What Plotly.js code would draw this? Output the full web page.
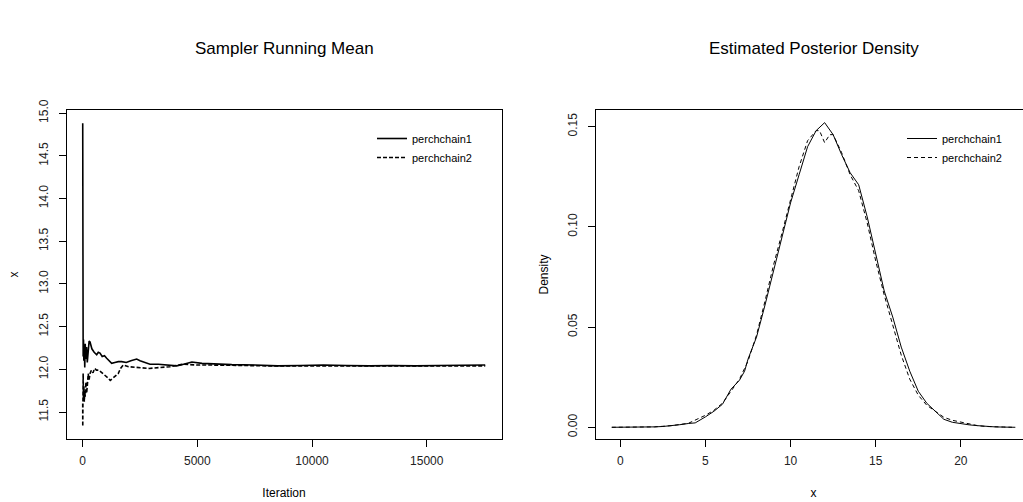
<!DOCTYPE html>
<html>
<head>
<meta charset="utf-8">
<script src="https://cdn.plot.ly/plotly-3.0.1.min.js"></script>
<style>
html,body{margin:0;padding:0;overflow:hidden;background:#fff;}
#chart{width:1032px;height:502px;}
</style>
</head>
<body>
<div id="chart"></div>
<script>
// ---- Data: running means (left panel) ----
var chain1Iter = [1,3,6,10,20,35,50,70,90,110,140,170,200,240,280,320,400,500,610,680,754,850,950,1046,1150,1264,1400,1552,1700,1900,2100,2354,2500,2630,2934,3300,3700,4098,4400,4762,5200,5842,6500,7500,8500,9500,10500,11500,12500,13500,14500,15500,16500,17550];
var chain1Mean = [14.88,13.6,12.9,12.45,12.15,12.35,12.1,12.28,12.02,12.3,12.12,12.26,12.08,12.28,12.33,12.32,12.24,12.2,12.17,12.2,12.19,12.15,12.16,12.13,12.1,12.07,12.08,12.09,12.09,12.08,12.1,12.12,12.1,12.09,12.06,12.06,12.05,12.04,12.06,12.085,12.07,12.06,12.055,12.05,12.04,12.045,12.05,12.045,12.04,12.045,12.04,12.045,12.05,12.05];

var chain2Iter = [1,3,6,10,20,35,50,70,90,110,140,170,200,240,280,320,380,450,520,600,700,800,900,1000,1100,1200,1300,1450,1550,1650,1770,2000,2350,2900,3300,3800,4380,4970,5500,6000,7000,8000,9000,10000,11000,12000,13000,14000,15000,16000,17000,17550];
var chain2Mean = [11.6,11.33,11.9,11.7,11.95,11.65,11.8,11.62,11.75,11.68,11.85,11.72,11.8,11.95,11.88,11.95,11.99,11.96,12.01,11.99,11.99,11.97,11.95,11.93,11.9,11.87,11.89,11.93,11.95,12.01,12.05,12.03,12.02,12.01,12.02,12.03,12.06,12.05,12.05,12.05,12.045,12.04,12.04,12.035,12.04,12.04,12.035,12.04,12.04,12.04,12.04,12.04];

// ---- Data: posterior density (right panel) ----
var dens1X = [-0.5,0,0.5,1,1.5,2,2.5,3,3.5,4,4.4,5,5.5,6,6.5,7,7.3,7.5,8,8.5,9,9.5,10,10.5,11,11.5,12,12.5,13,13.5,14,14.5,15,15.5,16,16.5,17,17.5,18,18.5,19,19.5,20,20.5,21,21.5,22,22.5,23.2];
var dens1Y = [0,0,0,0.0001,0.0001,0.0002,0.0004,0.0007,0.0013,0.0019,0.0022,0.0052,0.008,0.0115,0.019,0.0235,0.028,0.034,0.045,0.061,0.078,0.094,0.112,0.126,0.14,0.148,0.152,0.146,0.136,0.127,0.121,0.105,0.086,0.068,0.055,0.04,0.028,0.018,0.012,0.008,0.004,0.0025,0.0018,0.0012,0.0008,0.0004,0.0002,0.0001,0];

var dens2X = [-0.5,0,1,2,3,4,4.5,5,5.5,6,6.5,7,7.5,8,8.5,9,9.5,10,10.5,11,11.5,11.7,12,12.3,12.5,13,13.5,14,14.5,15,15.5,16,16.5,17,17.5,18,18.5,19,19.5,20,20.5,21,21.5,22,23];
var dens2Y = [0,0,0.0001,0.0002,0.0008,0.002,0.004,0.006,0.0085,0.012,0.018,0.024,0.033,0.046,0.063,0.081,0.097,0.114,0.13,0.143,0.148,0.148,0.142,0.146,0.146,0.137,0.126,0.118,0.102,0.083,0.066,0.051,0.036,0.024,0.016,0.011,0.008,0.005,0.0035,0.0025,0.0015,0.0008,0.0004,0.0002,0];

var seriesNames = ['perchchain1','perchchain2'];
var xTicksLeft = [0,5000,10000,15000];
var yTicksLeft = [11.5,12.0,12.5,13.0,13.5,14.0,14.5,15.0];
var xTicksRight = [0,5,10,15,20];
var yTicksRight = [0,0.05,0.10,0.15];

var W = 1032, H = 502;
function px(x){return x/W;}
function py(y){return (H-y)/H;}

var FONT = 'Liberation Sans, Arial, Helvetica, sans-serif';

var traces = [
  {x:chain1Iter, y:chain1Mean, type:'scatter', mode:'lines', name:seriesNames[0],
   line:{color:'#000', width:1.6}, xaxis:'x', yaxis:'y', legend:'legend'},
  {x:chain2Iter, y:chain2Mean, type:'scatter', mode:'lines', name:seriesNames[1],
   line:{color:'#000', width:1.6, dash:'4px,2px'}, xaxis:'x', yaxis:'y', legend:'legend'},
  {x:dens1X, y:dens1Y, type:'scatter', mode:'lines', name:seriesNames[0],
   line:{color:'#000', width:1}, xaxis:'x2', yaxis:'y2', legend:'legend2'},
  {x:dens2X, y:dens2Y, type:'scatter', mode:'lines', name:seriesNames[1],
   line:{color:'#000', width:1, dash:'4px,3px'}, xaxis:'x2', yaxis:'y2', legend:'legend2'}
];

function axisBase(){
  return {showline:true, mirror:true, linecolor:'#000', linewidth:1,
    ticks:'outside', ticklen:7, tickcolor:'#000', tickwidth:1,
    showgrid:false, zeroline:false, automargin:false,
    tickfont:{family:FONT, size:12, color:'#222'}};
}

var xa = axisBase();
Object.assign(xa, {domain:[px(66.5), px(501.5)], range:[-706, 18260], tickvals:xTicksLeft,
  tickformat:'d', anchor:'y', ticklabelstandoff:4,
  title:{text:'Iteration', font:{family:FONT, size:12, color:'#000'}, standoff:21}});
var ya = axisBase();
Object.assign(ya, {domain:[py(439), py(110)], range:[11.184, 15.036], tickvals:yTicksLeft,
  tickformat:'.1f', tickangle:-90, anchor:'x', ticklabelstandoff:6,
  title:{text:'x', font:{family:FONT, size:12, color:'#000'}, standoff:15}});
var xa2 = axisBase();
Object.assign(xa2, {domain:[px(596), px(1031)], range:[-1.427, 24.12], tickvals:xTicksRight,
  tickformat:'d', anchor:'y2', ticklabelstandoff:4,
  title:{text:'x', font:{family:FONT, size:12, color:'#000'}, standoff:21}});
var ya2 = axisBase();
Object.assign(ya2, {domain:[py(439), py(110)], range:[-0.00584, 0.1583], tickvals:yTicksRight,
  tickformat:'.2f', tickangle:-90, anchor:'x2', ticklabelstandoff:6,
  title:{text:'Density', font:{family:FONT, size:12, color:'#000'}, standoff:15}});

var legendStyle = {font:{family:FONT, size:11, color:'#000'}, bgcolor:'rgba(0,0,0,0)',
  borderwidth:0, xanchor:'left', yanchor:'top', tracegroupgap:0, itemwidth:30};

var layout = {
  width:W, height:H,
  margin:{l:0, r:0, t:0, b:0},
  paper_bgcolor:'#fff', plot_bgcolor:'#fff',
  font:{family:FONT, color:'#000'},
  showlegend:true,
  xaxis:xa, yaxis:ya, xaxis2:xa2, yaxis2:ya2,
  legend:Object.assign({x:px(372), y:py(124)}, legendStyle),
  legend2:Object.assign({x:px(902), y:py(124)}, legendStyle),
  annotations:[
    {text:'Sampler Running Mean', x:px(284), y:py(48), xref:'paper', yref:'paper',
     xanchor:'center', yanchor:'middle', showarrow:false,
     font:{family:FONT, size:17, color:'#000'}},
    {text:'Estimated Posterior Density', x:px(813.5), y:py(48), xref:'paper', yref:'paper',
     xanchor:'center', yanchor:'middle', showarrow:false,
     font:{family:FONT, size:17, color:'#000'}}
  ]
};

Plotly.newPlot('chart', traces, layout, {displayModeBar:false, staticPlot:true});
</script>
</body>
</html>
